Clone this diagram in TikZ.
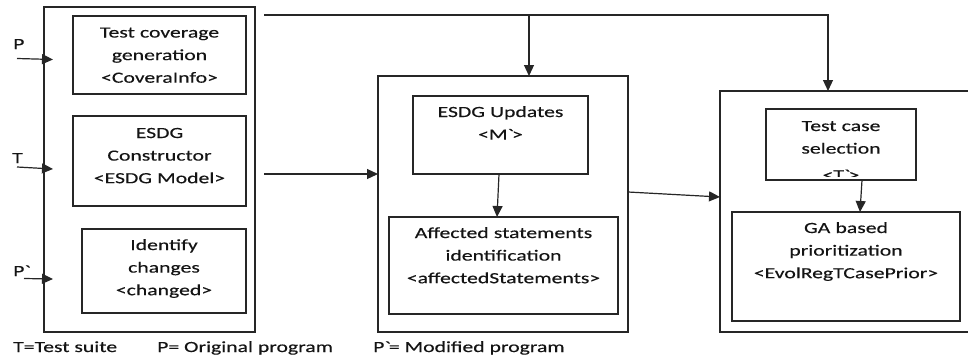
\documentclass[tikz,border=0pt]{standalone}
\usepackage{fontspec}
\setmainfont[FakeStretch=1.4,FakeBold=0.3]{Carlito}
\usetikzlibrary{arrows.meta}
\definecolor{ink}{HTML}{141414}
\definecolor{rule}{HTML}{262626}
\tikzset{
  bx/.style={draw=rule, line width=1.2pt, inner sep=0pt, outer sep=0pt},
  lbl/.style={text=ink, inner sep=0pt, text width=#1, align=center, anchor=base,
    font=\fontsize{15.5pt}{22.6pt}\selectfont},
  tag/.style={text=ink, inner sep=0pt, anchor=base west,
    font=\fontsize{15.5pt}{22.6pt}\selectfont},
  arr/.style={draw=rule, line width=1.2pt, -{Triangle[length=11pt,width=10pt]}},
  ln/.style={draw=rule, line width=1.2pt}
}
\begin{document}
\begin{tikzpicture}[x=1pt,y=-1pt]
\clip (0,0) rectangle (968,356);
\fill[white] (0,0) rectangle (968,356);

% stage A: coverage, model construction, change detection
\node[bx, minimum width=211pt, minimum height=325pt] (stageA) at (149.5,169.5) {};
\node[bx, minimum width=173pt, minimum height=78pt] (tcg) at (159.5,55) {};
\node[bx, minimum width=173pt, minimum height=90pt] (esdgc) at (159.5,161) {};
\node[bx, minimum width=164pt, minimum height=84pt] (idc) at (164,271) {};
\node[lbl=170pt] (tcg-t) at ([yshift=-21.5pt]tcg.north) {Test coverage\\generation\\<CoveraInfo>};
\node[lbl=170pt] (esdgc-t) at ([yshift=-22pt]esdgc.north) {ESDG\\Constructor\\<ESDG Model>};
\node[lbl=160pt] (idc-t) at ([yshift=-21pt]idc.north) {Identify\\changes\\<changed>};

% stage B: model update and impact analysis
\node[bx, minimum width=250pt, minimum height=256pt] (stageB) at (503,204) {};
\node[bx, minimum width=175pt, minimum height=78pt] (upd) at (500.5,135) {};
\node[bx, minimum width=229pt, minimum height=97pt] (aff) at (503.5,265.5) {};
\node[lbl=170pt] (upd-t) at ([yshift=-21pt]upd.north) {ESDG Updates\\<M\textasciigrave>};
\node[lbl=225pt] (aff-t) at ([yshift=-21pt]aff.north) {Affected statements\\identification\\<affectedStatements>};

% stage C: selection and prioritization
\node[bx, minimum width=270pt, minimum height=241pt] (stageC) at (855,211.5) {};
\node[bx, minimum width=150pt, minimum height=71pt] (tcs) at (841,144.5) {};
\node[bx, minimum width=228pt, minimum height=109pt] (ga) at (846,266.5) {};
\begin{scope}
  % the last line overflows the box and is cut by its lower edge
  \clip (767,110) rectangle (915,176);
  \node[lbl=146pt] (tcs-t) at ([yshift=-22pt]tcs.north) {Test case\\selection\\[4pt]<T\textasciigrave>};
\end{scope}
\node[lbl=224pt] (ga-t) at ([yshift=-21pt]ga.north) {GA based\\prioritization\\<EvolRegTCasePrior>};

% inputs
\node[tag] (lp) at (13,49) {P};
\node[tag] (lt) at (12,163) {T};
\node[tag] (lpm) at (13,276) {P\textasciigrave};
\coordinate (inP) at (17,58.5);
\coordinate (inT) at (17,167);
\coordinate (inPm) at (24,278.5);
\draw[arr] (inP) -- ([xshift=9pt]stageA.west |- 0,59.5);
\draw[arr] (inT) -- ([xshift=9pt]stageA.west |- 0,169);
\draw[arr] (inPm) -- ([xshift=9pt]stageA.west |- 0,279);

% outputs of stage A
\coordinate (feed) at (264,15);
\coordinate (model) at (264,174);
\draw[arr] (feed) -| ([xshift=-27pt]stageC.north);
\draw[arr] ([xshift=26pt]stageB.north |- feed) -- ([xshift=26pt]stageB.north);
\draw[arr] (model) -- (model -| stageB.west);
\draw[arr] ([yshift=12pt]stageB.east) -- ([yshift=14.5pt]stageC.west);

% inner flows
\draw[arr] ([xshift=-1.5pt]upd.south) -- ([xshift=-6.5pt]aff.north);
\draw[arr] ([xshift=21pt]tcs.south) -- ([xshift=14pt]ga.north);

% legend
\node[tag] (k1) at (13,352) {T=Test suite};
\node[tag] (k2) at (157,352) {P= Original program};
\node[tag] (k3) at (373,352) {P\textasciigrave= Modified program};
\end{tikzpicture}
\end{document}
